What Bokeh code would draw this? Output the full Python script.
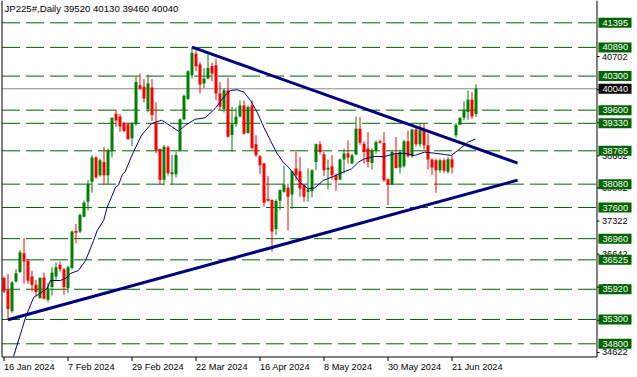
from bokeh.plotting import figure
from bokeh.models import Range1d, ColumnDataSource
from bokeh.core.properties import value
from bokeh.embed import file_html
from bokeh.resources import INLINE

# ---------------- data ----------------
title_text = "JP225#,Daily  39520 40130 39460 40040"

opens = [36150, 35898, 35468, 36082, 36273, 36662, 36505, 36184, 36014, 35741,
         36164, 35707, 35966, 36184, 36423, 36334, 35946, 36355, 37119, 37105,
         37412, 37719, 38128, 38626, 38264, 38537, 38264, 38755, 39526, 39471,
         39329, 39309, 39022, 39309, 40113, 40079, 39622, 40065, 39343, 38804,
         38170, 38838, 38285, 38285, 38783, 39411, 39827, 40318, 40761, 40536,
         40147, 40250, 40509, 40522, 39943, 39622, 40011, 39090, 39309, 39472,
         39697, 39131, 39697, 38899, 38653, 38503, 37773, 37753, 37160, 37739,
         37923, 38005, 37869, 38401, 38346, 38060, 37923, 37937, 38537, 38899,
         38694, 38380, 38449, 38264, 38176, 38585, 38708, 38503, 38687, 39219,
         38912, 38810, 38517, 38776, 38960, 38926, 38182, 38080, 38721, 38421,
         38449, 38960, 38653, 39205, 38900, 39185, 38878, 38585, 38571, 38367,
         38571, 38333, 38592, 39083, 39301, 39444, 39560, 39812, 39520]
highs = [36184, 36239, 36089, 36334, 36730, 36969, 36539, 36300, 36116, 36170,
         36266, 36048, 36375, 36471, 36491, 36355, 36402, 37125, 37262, 37480,
         37740, 38162, 38674, 38653, 38605, 38844, 38810, 39458, 39608, 39526,
         39363, 39329, 39349, 40284, 40352, 40236, 40331, 40236, 39759, 38817,
         38886, 38872, 38681, 38749, 39431, 39922, 40420, 40898, 40829, 40591,
         40468, 40741, 40577, 40659, 40181, 40045, 40263, 39670, 39650, 39799,
         39799, 39697, 39799, 39083, 38674, 38517, 38244, 37767, 37767, 37971,
         38456, 38094, 38360, 38742, 38640, 38080, 38401, 38387, 38913, 38960,
         38742, 38585, 38674, 38299, 38605, 38810, 38981, 38708, 39472, 39458,
         38960, 39151, 38810, 38980, 38994, 39151, 38196, 38776, 39049, 38776,
         38994, 39185, 39219, 39250, 39321, 39321, 39117, 38605, 38605, 38605,
         38610, 38639, 38674, 39335, 39458, 39785, 40003, 39969, 40130]
lows = [35843, 35311, 35434, 36061, 36252, 36034, 36034, 35877, 35775, 35720,
        35707, 35652, 35789, 36116, 36287, 35809, 35843, 36334, 36866, 37071,
        37398, 37535, 37903, 38196, 38230, 38073, 38073, 38626, 39253, 39151,
        39145, 38988, 38865, 39281, 40011, 39759, 39554, 39377, 38715, 38067,
        38054, 38258, 38067, 38217, 38749, 39397, 39806, 40250, 40400, 39943,
        40059, 40236, 40195, 39806, 39602, 39554, 39036, 38749, 39261, 39458,
        39103, 39117, 38790, 38640, 38285, 37617, 37719, 36696, 37037, 37548,
        37903, 37126, 37569, 38149, 37821, 37719, 37719, 37808, 38367, 38687,
        38251, 37971, 38176, 37944, 38162, 38299, 38503, 38490, 38674, 38880,
        38503, 38421, 38380, 38708, 38912, 38128, 37651, 38060, 38401, 38298,
        38421, 38626, 38620, 38850, 38850, 38790, 38380, 38264, 37903, 38312,
        38312, 38298, 38298, 39035, 39287, 39390, 39403, 39424, 39460]
closes = [35877, 35516, 36061, 36252, 36682, 36491, 36096, 36014, 35864, 36150,
          35727, 35952, 36266, 36375, 36334, 35966, 36375, 37105, 37084, 37446,
          37705, 38073, 38626, 38217, 38571, 38264, 38776, 39437, 39390, 39267,
          39172, 39008, 39329, 40181, 40045, 39840, 40147, 39499, 38783, 38170,
          38851, 38306, 38326, 38681, 39411, 39895, 40400, 40782, 40502, 40127,
          40250, 40468, 40352, 39943, 39670, 40011, 39056, 39309, 39465, 39697,
          39117, 39663, 38824, 38674, 38469, 37698, 37739, 37105, 37732, 37958,
          38074, 37821, 38346, 38264, 37992, 37821, 37971, 38367, 38899, 38742,
          38367, 38415, 38264, 38162, 38585, 38708, 38626, 38674, 39219, 38930,
          38742, 38537, 38776, 38946, 38933, 38162, 38080, 38742, 38414, 38742,
          38960, 38653, 39205, 38900, 39185, 38878, 38585, 38421, 38367, 38571,
          38353, 38592, 38421, 39301, 39437, 39608, 39812, 39471, 40040]

# moving average line, vertices (bar index, price)
ma_idx = [2.4, 4.55, 5.4, 7.4, 10.8, 11.6, 14.1, 15.8, 16.6, 18.6, 20.4, 22.4,
          23.3, 24.9, 25.8, 27.9, 28.6, 29.6, 30.3, 32.4, 34.4, 36.9, 39.4,
          41.9, 43.6, 45.3, 47.8, 50.3, 52.8, 55.3, 56.6, 58.3, 60.0, 61.6,
          63.3, 64.95, 66.6, 68.3, 69.8, 71.5, 73.95, 76.05, 77.7, 79.8, 82.3,
          84.8, 86.9, 88.6, 90.1, 92.6, 95.1, 97.6, 100.1, 102.6, 105.1, 107.6,
          110.1, 111.8, 113.45, 115.95, 117.9]
ma_val = [34545, 35114, 35347, 35751, 35936, 36100, 36100, 36162, 36244, 36306,
          36511, 36922, 37128, 37333, 37606, 38018, 38059, 38278, 38340, 38751,
          39086, 39326, 39394, 39264, 39168, 39285, 39414, 39443, 39634, 39908,
          40004, 40019, 39969, 39799, 39558, 39250, 38977, 38704, 38531, 38395,
          38120, 37985, 38005, 38155, 38237, 38326, 38395, 38531, 38601, 38648,
          38648, 38704, 38716, 38669, 38737, 38716, 38690, 38669, 38772, 38942,
          39008]

# trend lines (bar index, price)
up_trend_idx = [1, 128.4]
up_trend_val = [35293, 38163]
down_trend_idx = [47, 128.4]
down_trend_val = [40894, 38513]

# horizontal levels (green boxes) and the current price
level_values = [41395, 40890, 40300, 39600, 39330, 38765, 38080, 37600,
                36960, 36525, 35920, 35300, 34800]
current_price = 40040

# price scale tick labels
scale_ticks = [40702, 40022, 39342, 38662, 38002, 37322, 36642, 35962, 35282, 34622]

# date axis
date_tick_idx = [0, 16, 32, 48, 64, 80, 96, 112]
date_labels = ["16 Jan 2024", "7 Feb 2024", "29 Feb 2024", "22 Mar 2024",
               "16 Apr 2024", "8 May 2024", "30 May 2024", "21 Jun 2024"]

# ---------------- layout / scale constants ----------------
W, H = 637, 377
PX_PER_BAR = 4.0
BAR0_PX = 3.5
PT_PER_PX = 20.545
REF_PRICE, REF_PY = 41395, 22.3
y_top = REF_PRICE + REF_PY * PT_PER_PX
y_bot = y_top - H * PT_PER_PX
x_left = -BAR0_PX / PX_PER_BAR
x_right = x_left + W / PX_PER_BAR


def X(px):
    return x_left + px / PX_PER_BAR


def Y(py):
    return y_top - py * PT_PER_PX


LEFT_PX, AXIS_PX, BOTTOM_PY = 1.5, 596.5, 356.5
FONT = value("Liberation Sans")
FSIZE = "9.2px"
GREEN_LVL = "#006400"
BULL, BEAR = "#008000", "#ff0000"
NAVY = "#000080"

p = figure(width=W, height=H, x_range=Range1d(x_left, x_right),
           y_range=Range1d(y_bot, y_top), toolbar_location=None,
           output_backend="svg", min_border=0,
           x_axis_location=None, y_axis_location=None)
p.grid.visible = False
p.outline_line_color = None
p.background_fill_color = "white"
p.border_fill_color = "white"

# horizontal dashed levels
n = len(level_values)
p.segment(x0=[X(LEFT_PX)] * n, x1=[X(AXIS_PX)] * n, y0=level_values, y1=level_values,
          line_color=GREEN_LVL, line_width=1, line_dash="18 6")
# current price line
p.segment(x0=[X(LEFT_PX)], x1=[X(AXIS_PX)], y0=[current_price], y1=[current_price],
          line_color="#8a8a8a", line_width=1)

# candles
idx = list(range(len(opens)))
colors = [BULL if c >= o else BEAR for o, c in zip(opens, closes)]
btop, bbot = [], []
for o, c in zip(opens, closes):
    t, b = max(o, c), min(o, c)
    if t - b < PT_PER_PX:
        m = (t + b) / 2
        t, b = m + PT_PER_PX / 2, m - PT_PER_PX / 2
    btop.append(t)
    bbot.append(b)
src = ColumnDataSource(dict(x=idx, h=highs, l=lows, t=btop, b=bbot, col=colors))
p.segment(x0="x", x1="x", y0="l", y1="h", line_color="col", line_width=1, source=src)
p.vbar(x="x", width=3 / PX_PER_BAR, top="t", bottom="b", fill_color="col",
       line_color=None, source=src)

# moving average
p.line(ma_idx, ma_val, line_color=NAVY, line_width=1)

# trend lines
p.line(up_trend_idx, up_trend_val, line_color=NAVY, line_width=3)
p.line(down_trend_idx, down_trend_val, line_color=NAVY, line_width=3)

# frame lines
p.segment(x0=[X(LEFT_PX), X(AXIS_PX), X(LEFT_PX)],
          x1=[X(LEFT_PX), X(AXIS_PX), X(AXIS_PX)],
          y0=[Y(BOTTOM_PY), Y(BOTTOM_PY), Y(BOTTOM_PY)],
          y1=[Y(0), Y(0), Y(BOTTOM_PY)], line_color="black", line_width=1)

# price scale ticks + labels
m = len(scale_ticks)
p.segment(x0=[X(AXIS_PX)] * m, x1=[X(AXIS_PX + 2.5)] * m, y0=scale_ticks, y1=scale_ticks,
          line_color="black", line_width=1)
p.text(x=[X(601.5)] * m, y=scale_ticks, text=[str(v) for v in scale_ticks],
       text_font=FONT, text_font_size=FSIZE, text_color="black",
       text_align="left", text_baseline="middle")

# green level boxes
p.rect(x=[X(614.5)] * n, y=level_values, width=33, height=10,
       width_units="screen", height_units="screen",
       fill_color=GREEN_LVL, line_color=None)
p.text(x=[X(602)] * n, y=level_values, text=[str(v) for v in level_values],
       text_font=FONT, text_font_size=FSIZE, text_color="white",
       text_align="left", text_baseline="middle")
# current price box
p.rect(x=[X(614.5)], y=[current_price], width=33, height=10,
       width_units="screen", height_units="screen",
       fill_color="black", line_color=None)
p.text(x=[X(602)], y=[current_price], text=[str(current_price)],
       text_font=FONT, text_font_size=FSIZE, text_color="white",
       text_align="left", text_baseline="middle")

# date ticks + labels
k = len(date_tick_idx)
p.segment(x0=date_tick_idx, x1=date_tick_idx, y0=[Y(BOTTOM_PY)] * k, y1=[Y(360.5)] * k,
          line_color="black", line_width=1)
p.text(x=date_tick_idx, y=[Y(366)] * k, text=date_labels,
       text_font=FONT, text_font_size=FSIZE, text_color="black",
       text_align="left", text_baseline="middle")

# title
p.text(x=[X(4)], y=[Y(7.5)], text=[title_text], text_font=FONT,
       text_font_size="9.6px", text_color="black",
       text_align="left", text_baseline="middle")

open("out.html", "w").write(file_html(p, INLINE))
